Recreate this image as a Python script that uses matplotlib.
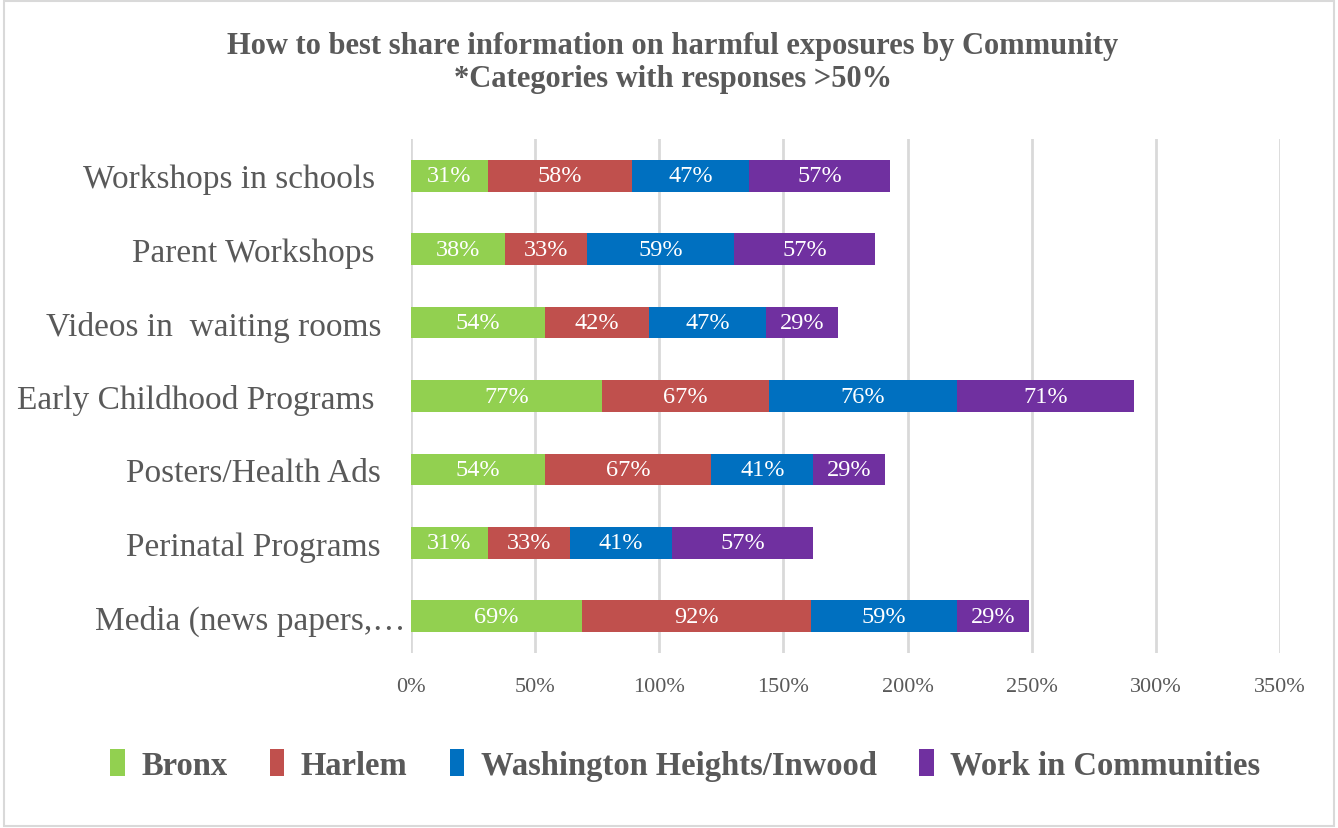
import numpy as np
import matplotlib.pyplot as plt
from matplotlib.patches import Rectangle

categories = ['Workshops in schools', 'Parent Workshops', 'Videos in  waiting rooms',
              'Early Childhood Programs', 'Posters/Health Ads', 'Perinatal Programs',
              'Media (news papers,\u2026']
bronx = [31, 38, 54, 77, 54, 31, 69]
harlem = [58, 33, 42, 67, 67, 33, 92]
wash_heights = [47, 59, 47, 76, 41, 41, 59]
work_comm = [57, 57, 29, 71, 29, 57, 29]
series_names = ['Bronx', 'Harlem', 'Washington Heights/Inwood', 'Work in Communities']
colors = ['#92D050', '#C0504D', '#0070C0', '#7030A0']
xticks = [0, 50, 100, 150, 200, 250, 300, 350]

plt.rcParams['font.family'] = ['Liberation Serif', 'DejaVu Serif']
text_col = '#595959'

fig = plt.figure(figsize=(13.38, 8.29), dpi=100)
ax = fig.add_axes([0.3072, 0.2111, 0.6495, 0.62])

y = np.arange(len(categories))
left = np.zeros(len(categories))
for name, vals, c in zip(series_names, [bronx, harlem, wash_heights, work_comm], colors):
    vals = np.array(vals, dtype=float)
    ax.barh(y, vals, left=left, height=0.43, color=c, label=name, zorder=3)
    for yi, l, v in zip(y, left, vals):
        ax.text(l + v / 2, yi, f'{v:.0f}%', ha='center', va='center',
                color='white', fontsize=17.5, zorder=4)
    left += vals

ax.set_xlim(0, 350)
ax.set_ylim(len(categories) - 0.5, -0.5)
ax.set_xticks(xticks)
ax.set_xticklabels([f'{t}%' for t in xticks], fontsize=16, color=text_col)
ax.set_yticks(y)
ax.set_yticklabels(categories, fontsize=24, color=text_col)
ax.tick_params(axis='both', length=0)
ax.tick_params(axis='x', pad=17)
# label right edges differ a little in the original
pads = [26, 26, 21.6, 26.5, 21.6, 21.6, 4.3]
for t, p in zip(ax.yaxis.get_major_ticks(), pads):
    t.set_pad(p)
ax.grid(axis='x', color='#d9d9d9', linewidth=2, zorder=0)
for s in ax.spines.values():
    s.set_visible(False)

fig.text(0.503, 0.944, 'How to best share information on harmful exposures by Community',
         ha='center', va='center', fontsize=22, fontweight='bold', color=text_col)
fig.text(0.503, 0.904, '*Categories with responses >50%',
         ha='center', va='center', fontsize=22, fontweight='bold', color=text_col)

leg = fig.legend(loc='center', bbox_to_anchor=(0.512, 0.076), ncol=4, frameon=False,
                 handlelength=0.45, handleheight=0.9, handletextpad=0.5, columnspacing=1.3,
                 prop={'size': 23.5, 'weight': 'bold'})
for t in leg.get_texts():
    t.set_color(text_col)

fig.patches.append(Rectangle((0.003, 0.003), 0.994, 0.994, transform=fig.transFigure,
                             fill=False, edgecolor='#d9d9d9', linewidth=1.5))

fig.savefig('out.png', dpi=100)
